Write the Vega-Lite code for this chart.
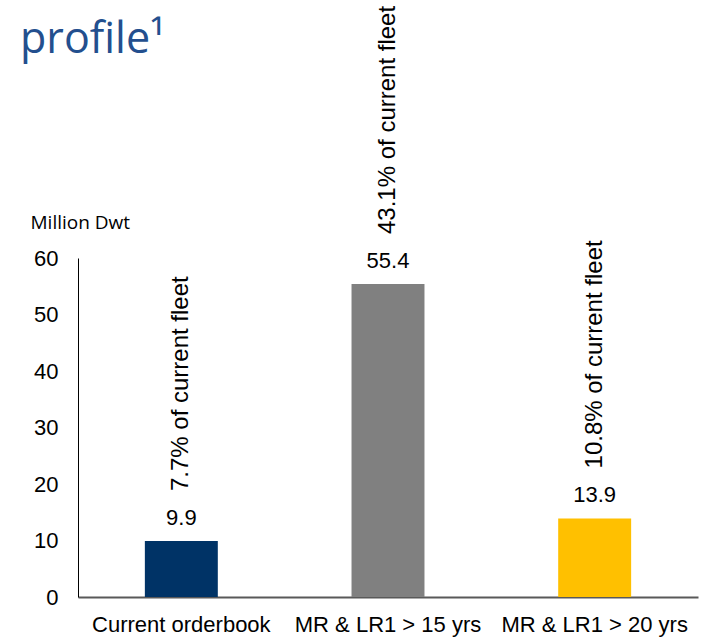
{
  "$schema": "https://vega.github.io/schema/vega-lite/v6.json",
  "autosize": "none",
  "width": 620,
  "height": 339,
  "padding": {"left": 78, "top": 258, "right": 10, "bottom": 43},
  "background": "white",
  "view": {"stroke": null},
  "title": {
    "text": "profile¹",
    "anchor": "start",
    "frame": "group",
    "font": "Open Sans",
    "fontSize": 43,
    "fontWeight": "normal",
    "color": "#234F8E",
    "baseline": "alphabetic",
    "dx": -58,
    "offset": 0,
    "dy": 90
  },
  "data": {
    "values": [
      {"category": "Current orderbook", "value": 9.9, "label": "9.9", "note": "7.7% of current fleet"},
      {"category": "MR & LR1 > 15 yrs", "value": 55.4, "label": "55.4", "note": "43.1% of current fleet"},
      {"category": "MR & LR1 > 20 yrs", "value": 13.9, "label": "13.9", "note": "10.8% of current fleet"}
    ]
  },
  "encoding": {
    "x": {
      "field": "category",
      "type": "nominal",
      "sort": null,
      "scale": {"paddingInner": 0.647, "paddingOuter": 0.3235},
      "axis": {
        "title": null,
        "labelAngle": 0,
        "labelLimit": 0,
        "labelFont": "Liberation Sans",
        "labelFontSize": 22,
        "labelColor": "#000000",
        "labelPadding": 17,
        "ticks": false,
        "domainColor": "#595959",
        "domainWidth": 2
      }
    },
    "y": {
      "field": "value",
      "type": "quantitative",
      "scale": {"domain": [0, 60]},
      "axis": {
        "values": [0, 10, 20, 30, 40, 50, 60],
        "grid": false,
        "ticks": false,
        "labelFont": "Liberation Sans",
        "labelFontSize": 22,
        "labelColor": "#000000",
        "labelPadding": 20,
        "domainColor": "#000000",
        "domainWidth": 1,
        "title": "Million Dwt",
        "titleAngle": 0,
        "titleFont": "Open Sans",
        "titleFontSize": 19,
        "titleFontWeight": "normal",
        "titleColor": "#000000",
        "titleAlign": "left",
        "titleBaseline": "middle",
        "titleX": -48,
        "titleY": -36
      }
    }
  },
  "layer": [
    {
      "mark": {"type": "bar"},
      "encoding": {
        "color": {
          "field": "category",
          "type": "nominal",
          "scale": {
            "domain": ["Current orderbook", "MR & LR1 > 15 yrs", "MR & LR1 > 20 yrs"],
            "range": ["#003366", "#808080", "#FFC000"]
          },
          "legend": null
        }
      }
    },
    {
      "mark": {"type": "text", "font": "Liberation Sans", "fontSize": 22, "color": "#000000", "baseline": "alphabetic", "dy": -16},
      "encoding": {"text": {"field": "label"}}
    },
    {
      "mark": {"type": "text", "font": "Liberation Sans", "fontSize": 24, "color": "#000000", "angle": 270, "align": "left", "baseline": "middle", "dx": 50},
      "encoding": {"text": {"field": "note"}}
    }
  ]
}
